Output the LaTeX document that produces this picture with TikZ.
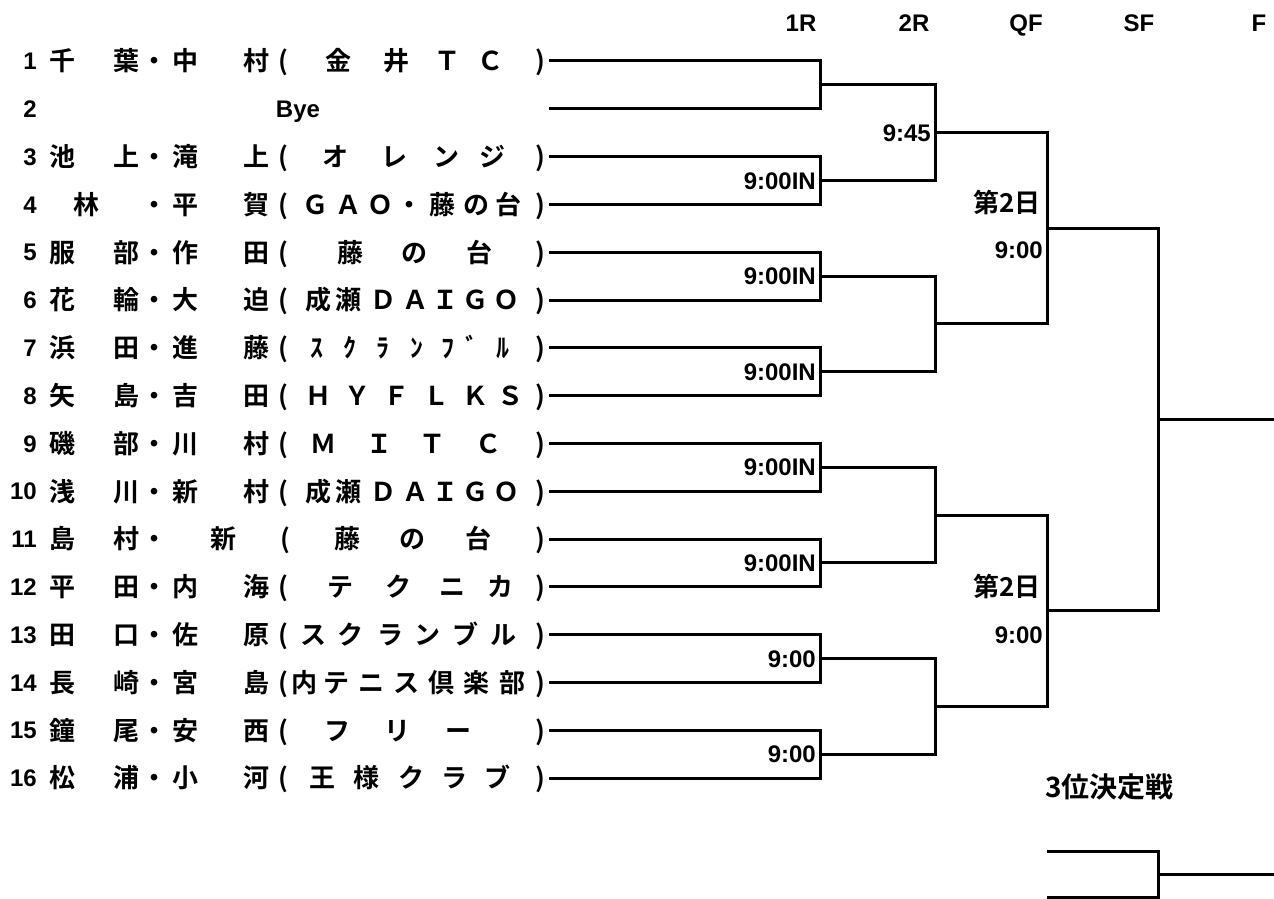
\documentclass[tikz,border=0pt]{standalone}
\usepackage{fontspec}
\newfontfamily\jp{Noto Sans CJK JP}[BoldFont={Noto Sans CJK JP Bold}]
\newfontfamily\lat{Liberation Sans}
\newcommand\trow[3]{%
  \foreach \x/\t [count=\k] in {#3} {\node[jp] (r#1-\k) at (\x,#2) {\t};}}
\begin{document}
\begin{tikzpicture}[x=1pt,y=-1pt,
  jp/.style={font=\jp\bfseries\fontsize{26}{26}\selectfont, inner sep=0pt, text height=22.9pt, text depth=3.1pt, anchor=center},
  jpl/.style={font=\jp\bfseries\fontsize{26}{26}\selectfont, inner sep=0pt, text height=22.9pt, text depth=3.1pt},
  lat/.style={font=\lat\bfseries\fontsize{24}{24}\selectfont, inner sep=0pt, text height=17.2pt, text depth=0pt},
  wire/.style={line width=3pt, line join=miter}]
\useasboundingbox (0,0) rectangle (1274,899);

% headers
\node[lat] (h1) at (801,23) {1R};
\node[lat] (h2) at (914,23) {2R};
\node[lat] (h3) at (1026,23) {QF};
\node[lat] (h4) at (1139,23) {SF};
\node[lat] (h5) at (1259,23) {F};

% row numbers
\foreach \n/\y in {1/61,2/108.8,3/156.6,4/204.4,5/252.2,6/300,7/347.8,8/395.6,9/443.4,10/491.2,11/539,12/586.8,13/634.6,14/682.4,15/730.2,16/778}
  {\node[lat,anchor=east] (num\n) at (37,\y) {\n};
   \coordinate (p\n) at (549,\y);}

% player texts
\trow{1}{61}{62/千,126/葉,154/・,185/中,256/村,283/{(},338/金,396/井,447/Ｔ,490/Ｃ,540/{)}}
\node[lat] (bye) at (298,108.8) {Bye};
\trow{3}{156.6}{62/池,126/上,154/・,185/滝,256/上,283/{(},335/オ,394/レ,446/ン,492/ジ,540/{)}}
\trow{4}{204.4}{86/林,154/・,185/平,256/賀,283/{(},315/Ｇ,348/Ａ,380/Ｏ,409/・,442/藤,476/の,508/台,540/{)}}
\trow{5}{252.2}{62/服,126/部,154/・,185/作,256/田,283/{(},350/藤,414/の,479/台,540/{)}}
\trow{6}{300}{62/花,126/輪,154/・,185/大,256/迫,283/{(},318/成,348/瀬,383/Ｄ,415/Ａ,445/Ｉ,475/Ｇ,506/Ｏ,540/{)}}
\trow{7}{347.8}{62/浜,126/田,154/・,185/進,256/藤,283/{(},317/ｽ,350/ｸ,383/ﾗ,417/ﾝ,448/ﾌ,472/ﾞ,503/ﾙ,540/{)}}
\trow{8}{395.6}{62/矢,126/島,154/・,185/吉,256/田,283/{(},318/Ｈ,357/Ｙ,396/Ｆ,436/Ｌ,475/Ｋ,510/Ｓ,540/{)}}
\trow{9}{443.4}{62/磯,126/部,154/・,185/川,256/村,283/{(},323/Ｍ,379/Ｉ,432/Ｔ,488/Ｃ,540/{)}}
\trow{10}{491.2}{62/浅,126/川,154/・,185/新,256/村,283/{(},318/成,348/瀬,383/Ｄ,415/Ａ,445/Ｉ,475/Ｇ,506/Ｏ,540/{)}}
\trow{11}{539}{62/島,126/村,154/・,223/新,285/{(},347/藤,412/の,478/台,540/{)}}
\trow{12}{586.8}{62/平,126/田,154/・,185/内,256/海,283/{(},340/テ,398/ク,452/ニ,500/カ,540/{)}}
\trow{13}{634.6}{62/田,126/口,154/・,185/佐,256/原,283/{(},313/ス,350/ク,390/ラ,427/ン,465/ブ,503/ル,540/{)}}
\trow{14}{682.4}{62/長,126/崎,154/・,185/宮,256/島,283/{(},304/内,336/テ,371/ニ,406/ス,441/倶,476/楽,512/部,540/{)}}
\trow{15}{730.2}{62/鐘,126/尾,154/・,185/安,256/西,283/{(},337/フ,397/リ,458/ー,540/{)}}
\trow{16}{778}{62/松,126/浦,154/・,185/小,256/河,283/{(},322/王,366/様,411/ク,454/ラ,497/ブ,540/{)}}

% match points
\coordinate (a1) at (820,84.9);
\coordinate (a2) at (820,180.5);
\coordinate (a3) at (820,276.1);
\coordinate (a4) at (820,371.7);
\coordinate (a5) at (820,467.3);
\coordinate (a6) at (820,562.9);
\coordinate (a7) at (820,658.5);
\coordinate (a8) at (820,754.1);
\coordinate (b1) at (935,132.7);
\coordinate (b2) at (935,323.9);
\coordinate (b3) at (935,515.1);
\coordinate (b4) at (935,706.3);
\coordinate (c1) at (1047,228.3);
\coordinate (c2) at (1047,610.7);
\coordinate (d1) at (1158,419.5);
\coordinate (e1) at (1274,419.5);

% first round
\draw[wire] (p1) -| (a1) |- (p2);
\draw[wire] (p3) -| (a2) |- (p4);
\draw[wire] (p5) -| (a3) |- (p6);
\draw[wire] (p7) -| (a4) |- (p8);
\draw[wire] (p9) -| (a5) |- (p10);
\draw[wire] (p11) -| (a6) |- (p12);
\draw[wire] (p13) -| (a7) |- (p14);
\draw[wire] (p15) -| (a8) |- (p16);
% second round
\draw[wire] (a1) -| (b1); \draw[wire] (a2) -| (b1);
\draw[wire] (a3) -| (b2); \draw[wire] (a4) -| (b2);
\draw[wire] (a5) -| (b3); \draw[wire] (a6) -| (b3);
\draw[wire] (a7) -| (b4); \draw[wire] (a8) -| (b4);
% QF
\draw[wire] (b1) -| (c1); \draw[wire] (b2) -| (c1);
\draw[wire] (b3) -| (c2); \draw[wire] (b4) -| (c2);
% SF
\draw[wire] (c1) -| (d1); \draw[wire] (c2) -| (d1);
\draw[wire] (d1) -- (e1);

% time labels
\node[lat,anchor=east] (t2) at (816,180.5) {9:00IN};
\node[lat,anchor=east] (t3) at (816,276.1) {9:00IN};
\node[lat,anchor=east] (t4) at (816,371.7) {9:00IN};
\node[lat,anchor=east] (t5) at (816,467.3) {9:00IN};
\node[lat,anchor=east] (t6) at (816,562.9) {9:00IN};
\node[lat,anchor=east] (t7) at (816,658.5) {9:00};
\node[lat,anchor=east] (t8) at (816,754.1) {9:00};
\node[lat,anchor=east] (u1) at (931,132.7) {9:45};
\node[jpl,anchor=east] (v1) at (1041,203) {第2日};
\node[lat,anchor=east] (w1) at (1043,250) {9:00};
\node[jpl,anchor=east] (v2) at (1041,587) {第2日};
\node[lat,anchor=east] (w2) at (1043,635) {9:00};

% third place
\node[jpl,anchor=west,font=\jp\bfseries\fontsize{28}{28}\selectfont] (third) at (1045,788) {3位決定戦};
\coordinate (f1) at (1047,851);
\coordinate (f2) at (1047,897);
\coordinate (fm) at (1158,874);
\coordinate (fe) at (1274,874);
\draw[wire] (f1) -| (fm) |- (f2);
\draw[wire] (fm) -- (fe);
\end{tikzpicture}
\end{document}
